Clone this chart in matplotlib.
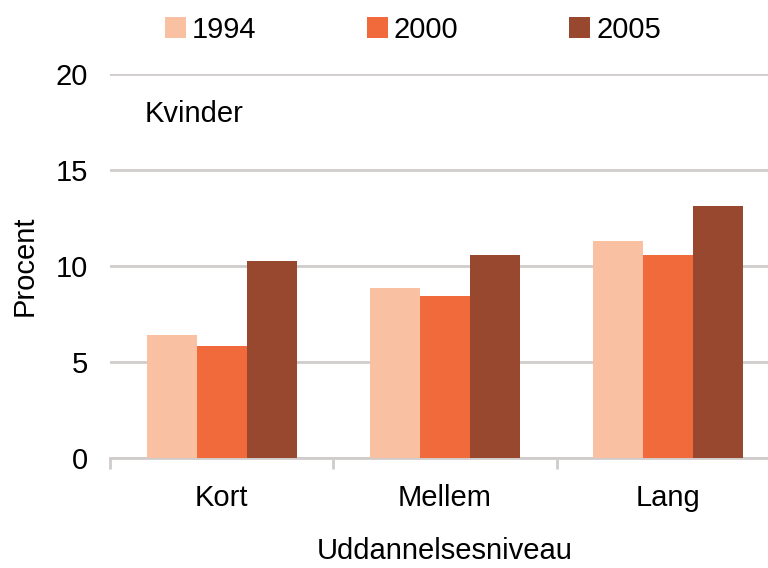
import numpy as np
import matplotlib
matplotlib.use("Agg")
from matplotlib import pyplot as plt

plt.rcParams['font.family'] = ['Liberation Sans', 'DejaVu Sans']

categories = ['Kort', 'Mellem', 'Lang']
years = ['1994', '2000', '2005']
v1994 = [6.4, 8.85, 11.3]
v2000 = [5.85, 8.45, 10.55]
v2005 = [10.25, 10.55, 13.15]
colors = ['#F9C1A2', '#F06A3B', '#994830']

fs = 21
fig = plt.figure(figsize=(7.68, 5.68), dpi=100)
ax = fig.add_axes([110/768, 1-458/568, 670/768, 384/568])

x = np.arange(len(categories))
w = 0.224
for i, (vals, yr) in enumerate(zip([v1994, v2000, v2005], years)):
    ax.bar(x + (i-1)*w, vals, w, color=colors[i], label=yr, zorder=3)

ax.set_xlim(-0.5, 2.5)
ax.set_ylim(0, 20)
ax.set_yticks([0, 5, 10, 15, 20])
ax.yaxis.grid(True, color='#D0CCCC', linewidth=2, zorder=0)
ax.tick_params(axis='y', length=0, labelsize=fs, pad=16)
ax.set_xticks(x)
ax.set_xticklabels(categories)
ax.set_xticks([-0.5, 0.5, 1.5, 2.5], minor=True)
ax.tick_params(axis='x', which='major', length=0, labelsize=fs, pad=19)
ax.tick_params(axis='x', which='minor', length=8, width=2, color='#D0CCCC')
for s in ['top', 'right', 'left']:
    ax.spines[s].set_visible(False)
ax.spines['bottom'].set_color('#D0CCCC')
ax.spines['bottom'].set_linewidth(2)

ax.set_ylabel('Procent', fontsize=fs, labelpad=12)
ax.set_xlabel('Uddannelsesniveau', fontsize=fs, labelpad=18)
ax.text(35/670, 0.897, 'Kvinder', transform=ax.transAxes, fontsize=fs, va='center')

fig.legend(loc='center left', bbox_to_anchor=(165/768, 1-30/568), ncol=3, frameon=False,
           fontsize=fs, borderpad=0, borderaxespad=0, handlelength=0.72,
           handleheight=0.72, handletextpad=0.2, columnspacing=3.8)

fig.savefig('out.png', dpi=100)
